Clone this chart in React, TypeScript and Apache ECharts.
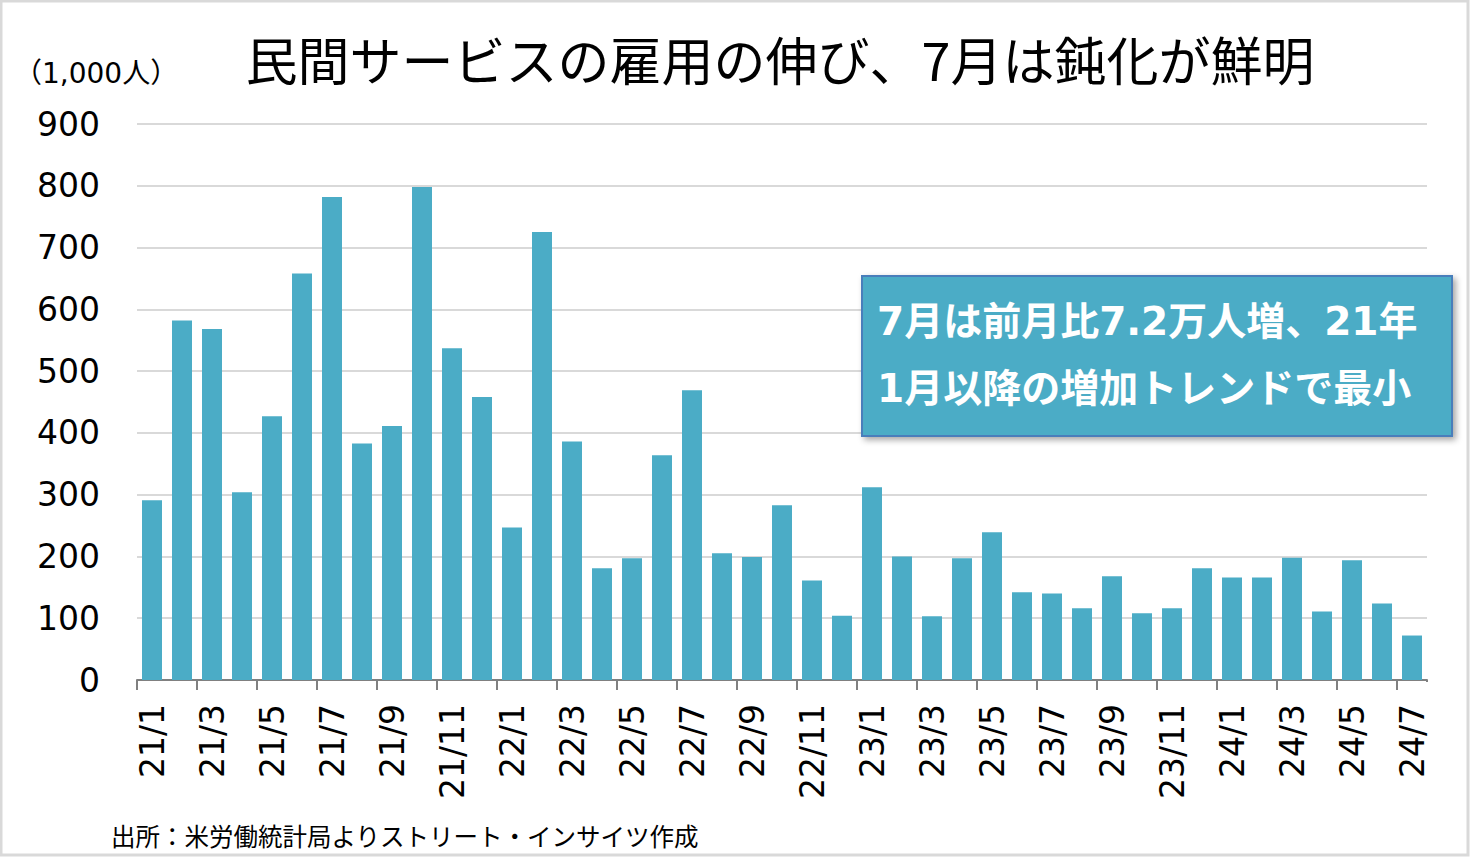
import React, { useEffect, useRef } from "react";
import * as echarts from "echarts";

const months: string[] = [
  "21/1", "21/2", "21/3", "21/4", "21/5", "21/6", "21/7", "21/8", "21/9", "21/10", "21/11", "21/12",
  "22/1", "22/2", "22/3", "22/4", "22/5", "22/6", "22/7", "22/8", "22/9", "22/10", "22/11", "22/12",
  "23/1", "23/2", "23/3", "23/4", "23/5", "23/6", "23/7", "23/8", "23/9", "23/10", "23/11", "23/12",
  "24/1", "24/2", "24/3", "24/4", "24/5", "24/6", "24/7",
];

const privateServiceJobs: number[] = [
  291, 582, 568, 304, 427, 658, 782, 383, 411, 798, 537, 458,
  247, 725, 386, 181, 197, 364, 469, 205, 199, 283, 161, 104,
  312, 200, 103, 197, 239, 142, 140, 116, 168, 108, 116, 181,
  166, 166, 198, 111, 194, 124, 72,
];

const yMin = 0;
const yMax = 900;
const yStep = 100;

const titleText = "民間サービスの雇用の伸び、7月は鈍化が鮮明";
const unitText = "（1,000人）";
const noteLine1 = "7月は前月比7.2万人増、21年";
const noteLine2 = "1月以降の増加トレンドで最小";
const sourceText = "出所：米労働統計局よりストリート・インサイツ作成";

const JP = "'Noto Sans CJK JP', 'Noto Sans', sans-serif";
const NUM = "'DejaVu Sans', 'Noto Sans CJK JP', sans-serif";

export default function App() {
  const ref = useRef<HTMLDivElement>(null);

  useEffect(() => {
    if (!ref.current) return;
    const chart = echarts.init(ref.current, undefined, { renderer: "svg" });
    chart.setOption({
      animation: false,
      backgroundColor: "#ffffff",
      grid: { left: 137, right: 43, top: 124, bottom: 177, containLabel: false },
      xAxis: {
        type: "category",
        data: months,
        boundaryGap: true,
        axisLine: { show: true, lineStyle: { color: "#808080", width: 2 } },
        axisTick: { show: true, interval: 1, length: 10, lineStyle: { color: "#808080", width: 2 } },
        axisLabel: {
          interval: 1,
          rotate: 90,
          margin: 24,
          fontSize: 33,
          color: "#000000",
          fontFamily: NUM,
        },
        splitLine: { show: false },
      },
      yAxis: {
        type: "value",
        min: yMin,
        max: yMax,
        interval: yStep,
        axisLine: { show: false },
        axisTick: { show: false },
        axisLabel: { fontSize: 33, color: "#000000", fontFamily: NUM, margin: 37 },
        splitLine: { show: true, lineStyle: { color: "#d9d9d9", width: 2 } },
      },
      series: [
        {
          type: "bar",
          data: privateServiceJobs,
          barWidth: 20,
          itemStyle: { color: "#4BACC6" },
        },
      ],
      graphic: [
        {
          type: "rect",
          z: 100,
          shape: { x: 1, y: 1, width: 1467, height: 854 },
          style: { fill: "none", stroke: "#d9d9d9", lineWidth: 3 },
          silent: true,
        },
        {
          type: "rect",
          z: 100,
          shape: { x: 1425, y: 682, width: 6, height: 12 },
          style: { fill: "#ffffff" },
          silent: true,
        },
        {
          type: "text",
          z: 100,
          x: 780,
          y: 58,
          style: {
            text: titleText,
            fontSize: 52,
            fontFamily: JP,
            fill: "#000000",
            align: "center",
            verticalAlign: "middle",
          },
        },
        {
          type: "text",
          z: 100,
          x: 14,
          y: 73,
          style: {
            text: unitText,
            fontSize: 28,
            fontFamily: NUM,
            fill: "#000000",
            verticalAlign: "middle",
          },
        },
        {
          type: "rect",
          z: 100,
          shape: { x: 862, y: 276, width: 590, height: 160 },
          style: {
            fill: "#4BACC6",
            stroke: "#4A7EBB",
            lineWidth: 2,
            shadowBlur: 6,
            shadowOffsetX: 3,
            shadowOffsetY: 3,
            shadowColor: "rgba(0,0,0,0.35)",
          },
        },
        {
          type: "text",
          z: 101,
          x: 877,
          y: 321,
          style: {
            text: noteLine1,
            fontSize: 39,
            fontWeight: "bold",
            fontFamily: NUM,
            fill: "#ffffff",
            verticalAlign: "middle",
          },
        },
        {
          type: "text",
          z: 101,
          x: 877,
          y: 388,
          style: {
            text: noteLine2,
            fontSize: 39,
            fontWeight: "bold",
            fontFamily: NUM,
            fill: "#ffffff",
            verticalAlign: "middle",
          },
        },
        {
          type: "text",
          z: 100,
          x: 111,
          y: 835,
          style: {
            text: sourceText,
            fontSize: 24.5,
            fontFamily: JP,
            fill: "#000000",
            verticalAlign: "middle",
          },
        },
      ],
    });
    return () => chart.dispose();
  }, []);

  return (
    <div
      ref={ref}
      style={{ position: "fixed", left: 0, top: 0, width: 1470, height: 857 }}
    />
  );
}
